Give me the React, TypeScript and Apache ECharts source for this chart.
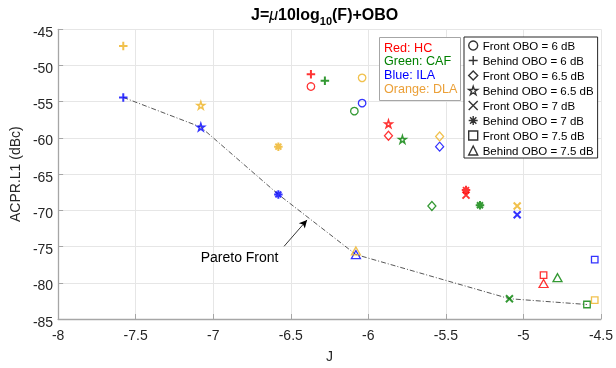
import React, { useEffect, useRef } from 'react';
import * as echarts from 'echarts';

const FONT = 'Liberation Sans, Arial, sans-serif';

// Marker legend entries (one per OBO configuration)
const configNames = [
  'Front OBO = 6 dB',
  'Behind OBO = 6 dB',
  'Front OBO = 6.5 dB',
  'Behind OBO = 6.5 dB',
  'Front OBO = 7 dB',
  'Behind OBO = 7 dB',
  'Front OBO = 7.5 dB',
  'Behind OBO = 7.5 dB',
];

// Methods (colour legend)
const methodNames = ['HC', 'CAF', 'ILA', 'DLA'];
const colorNames = ['Red', 'Green', 'Blue', 'Orange'];
const markerColors = ['#ff0000', '#008000', '#0000ff', '#EDB120'];
const textColors = ['#ff0000', '#008000', '#0000ff', '#EBA038'];

// J values per configuration (same order as configNames)
const hcJ = [-6.37, -6.37, -5.87, -5.87, -5.37, -5.37, -4.87, -4.87];
const cafJ = [-6.09, -6.28, -5.59, -5.78, -5.09, -5.28, -4.59, -4.78];
const ilaJ = [-6.04, -7.58, -5.54, -7.08, -5.04, -6.58, -4.54, -6.08];
const dlaJ = [-6.04, -7.58, -5.54, -7.08, -5.04, -6.58, -4.54, -6.08];

// ACPR.L1 (dBc) per configuration
const hcACPR = [-52.9, -51.2, -59.7, -58.05, -67.9, -67.2, -78.95, -80.1];
const cafACPR = [-56.3, -52.1, -69.4, -60.2, -82.2, -69.3, -83.0, -79.3];
const ilaACPR = [-55.2, -54.4, -61.2, -58.5, -70.6, -67.8, -76.8, -76.1];
const dlaACPR = [-51.7, -47.3, -59.8, -55.5, -69.4, -61.2, -82.4, -75.6];

// Annotation
const paretoLabel = 'Pareto Front';
const paretoLabelAt = [-6.83, -76.46];
const arrowFrom = [-6.543, -74.96];
const arrowTo = [-6.395, -71.32];

const PLUS = 'path://M5,0L5,10M0,5L10,5';
const CROSS = 'path://M0,0L10,10M10,0L0,10';
const ASTER = 'path://M5,0L5,10M0,5L10,5M1.5,1.5L8.5,8.5M8.5,1.5L1.5,8.5';
const STAR =
  'path://M5,0L6.123,3.455L9.755,3.455L6.816,5.59L7.939,9.045L5,6.91L2.061,9.045L3.184,5.59L0.245,3.455L3.877,3.455Z';

const symbols = ['circle', PLUS, 'diamond', STAR, CROSS, ASTER, 'rect', 'triangle'];
const symbolSizes: any[] = [7.5, 8.5, [8, 9], 7.5, 7, 8.5, 6.5, [9, 8]];
const symbolWidths = [1.3, 2, 1.3, 1.5, 2, 2, 1.3, 1.3];

export default function App() {
  const ref = useRef<HTMLDivElement>(null);

  useEffect(() => {
    if (!ref.current) return;
    const chart = echarts.init(ref.current, undefined, { renderer: 'svg' });

    const methods = [
      { J: hcJ, A: hcACPR },
      { J: cafJ, A: cafACPR },
      { J: ilaJ, A: ilaACPR },
      { J: dlaJ, A: dlaACPR },
    ];

    // Pareto front: non-dominated points (lower J and lower ACPR)
    const all: number[][] = [];
    methods.forEach((m) => m.J.forEach((j, i) => all.push([j, m.A[i]])));
    all.sort((a, b) => a[0] - b[0] || a[1] - b[1]);
    const pareto: number[][] = [];
    let best = Infinity;
    all.forEach((p) => {
      if (p[1] < best) {
        pareto.push(p);
        best = p[1];
      }
    });

    const scatterSeries = configNames.map((name, i) => ({
      type: 'scatter',
      name,
      symbol: symbols[i],
      symbolSize: symbolSizes[i],
      itemStyle: { color: 'transparent', borderColor: '#000', borderWidth: symbolWidths[i] },
      z: 3,
      data: methods.map((m, k) => ({
        value: [m.J[i], m.A[i]],
        itemStyle: { color: 'transparent', borderColor: markerColors[k], borderWidth: symbolWidths[i] },
      })),
    }));

    const axisCommon = {
      axisLine: { show: true, lineStyle: { color: '#a6a6a6', width: 1.3 } },
      axisTick: { show: true, inside: true, length: 5, lineStyle: { color: '#a6a6a6' } },
      splitLine: { show: true, lineStyle: { color: '#e6e6e6', width: 1 } },
      nameTextStyle: { fontSize: 14, color: '#262626', fontFamily: FONT },
    };

    chart.setOption({
      animation: false,
      textStyle: { fontFamily: FONT },
      title: {
        text: '{b|J=}{mu|μ}{b|10log}{sub|10}{b|(F)+OBO}',
        left: 251,
        top: 2,
        padding: 0,
        textStyle: {
          fontSize: 16,
          fontWeight: 'bold',
          color: '#000',
          fontFamily: FONT,
          rich: {
            b: { fontSize: 16, fontWeight: 'bold', color: '#000', lineHeight: 24, fontFamily: FONT },
            mu: { fontSize: 16, fontStyle: 'italic', fontWeight: 'normal', color: '#000', lineHeight: 24, fontFamily: FONT },
            sub: { fontSize: 11, fontWeight: 'bold', color: '#000', lineHeight: 12, verticalAlign: 'bottom', fontFamily: FONT },
          },
        },
      },
      grid: { left: 52.7, right: 12, top: 29.3, bottom: 45.3, containLabel: false },
      xAxis: {
        type: 'value',
        min: -8,
        max: -4.5,
        interval: 0.5,
        name: 'J',
        nameLocation: 'middle',
        nameGap: 30,
        axisLabel: { fontSize: 14, color: '#262626', margin: 9, fontFamily: FONT },
        ...axisCommon,
      },
      yAxis: {
        type: 'value',
        min: -85,
        max: -45,
        interval: 5,
        name: 'ACPR.L1 (dBc)',
        nameLocation: 'middle',
        nameGap: 26,
        axisLabel: {
          margin: 5,
          formatter: (v: number) => `{a|${v}}`,
          rich: { a: { fontSize: 14, color: '#262626', fontFamily: FONT, padding: [5, 0, 0, 0] } },
        },
        ...axisCommon,
      },
      legend: {
        orient: 'vertical',
        left: 464,
        top: 37,
        padding: [2, 4, 1, 4],
        itemGap: 2,
        itemWidth: 9,
        itemHeight: 9,
        backgroundColor: '#fff',
        borderColor: '#262626',
        borderWidth: 1,
        borderRadius: 0,
        selectedMode: false,
        data: configNames,
        itemStyle: { color: 'transparent', borderColor: '#000', borderWidth: 1.4 },
        textStyle: { fontSize: 11.5, color: '#000', lineHeight: 13, fontFamily: FONT },
        z: 10,
      },
      series: [
        {
          type: 'line',
          name: 'pareto',
          data: pareto,
          showSymbol: false,
          symbol: 'none',
          z: 2,
          lineStyle: { color: '#444', width: 0.9, type: [5, 2, 1, 2] },
          markLine: {
            silent: true,
            symbol: ['none', 'arrow'],
            symbolSize: [6, 8],
            label: { show: false },
            lineStyle: { color: '#000', width: 0.8, type: 'solid' },
            data: [[{ coord: arrowFrom }, { coord: arrowTo }]],
          },
          markPoint: {
            silent: true,
            symbol: 'circle',
            symbolSize: 1,
            itemStyle: { color: 'transparent' },
            label: {
              show: true,
              position: 'inside',
              formatter: paretoLabel,
              fontSize: 14,
              color: '#000',
              fontFamily: FONT,
            },
            data: [{ coord: paretoLabelAt }],
          },
        },
        ...scatterSeries,
      ],
      graphic: [
        {
          type: 'rect',
          z: 10,
          shape: { x: 379.5, y: 37.5, width: 81, height: 63 },
          style: { fill: '#fff', stroke: '#a6a6a6', lineWidth: 1 },
        },
        ...methodNames.map((m, k) => ({
          type: 'text',
          z: 11,
          x: 384,
          y: 47.5 + k * 13.7,
          style: {
            text: `${colorNames[k]}: ${m}`,
            fill: textColors[k],
            fontSize: 12.6,
            fontFamily: FONT,
            verticalAlign: 'middle',
            align: 'left',
          },
        })),
      ],
    });

    return () => chart.dispose();
  }, []);

  return <div ref={ref} style={{ position: 'fixed', left: 0, top: 0, width: 616, height: 368 }} />;
}
